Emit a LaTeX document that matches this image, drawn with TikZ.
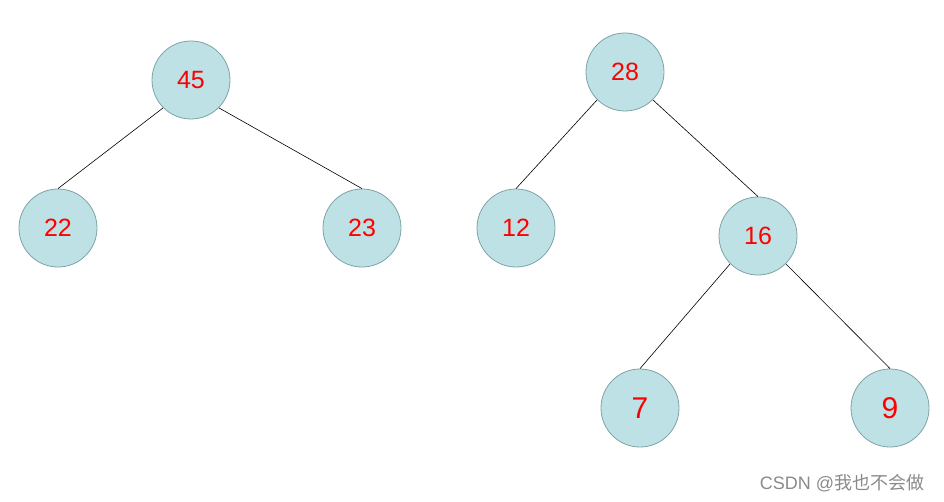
\documentclass[tikz,border=0pt]{standalone}
\usepackage{fontspec}
\setmainfont{Liberation Sans}
\newfontfamily\cjk{Noto Sans CJK SC}
\definecolor{nodefill}{HTML}{BDE1E5}
\definecolor{nodeedge}{HTML}{7FA3A6}
\definecolor{wmgray}{HTML}{8A8A8A}
\begin{document}
\begin{tikzpicture}[x=1pt,y=-1pt,
  tnode/.style={circle,draw=nodeedge,fill=nodefill,line width=0.8pt,minimum size=78pt,inner sep=0pt,text=red,font=\fontsize{25}{25}\selectfont},
  bignum/.style={font=\fontsize{30}{30}\selectfont},
  edge/.style={draw=black,line width=0.6pt}]
\useasboundingbox (0,0) rectangle (944,502);
\node[tnode] (n45) at (191,80) {45};
\node[tnode] (n22) at (58,228) {22};
\node[tnode] (n23) at (362,228) {23};
\node[tnode] (n28) at (625,72) {28};
\node[tnode] (n12) at (516,228) {12};
\node[tnode] (n16) at (758,236) {16};
\node[tnode,bignum] (n7) at (640,408) {7};
\node[tnode,bignum] (n9) at (890,408) {9};
\draw[edge] (n45.south west) -- (n22.north);
\draw[edge] (n45.south east) -- (n23.north);
\draw[edge] (n28.south west) -- (n12.north);
\draw[edge] (n28.south east) -- (n16.north);
\draw[edge] (n16.south west) -- (n7.north);
\draw[edge] (n16.south east) -- (n9.north);
\node[text=wmgray,font=\fontsize{18}{18}\selectfont,inner sep=0pt] (wm) at (842,483) {CSDN @{\cjk 我也不会做}};
\end{tikzpicture}
\end{document}
